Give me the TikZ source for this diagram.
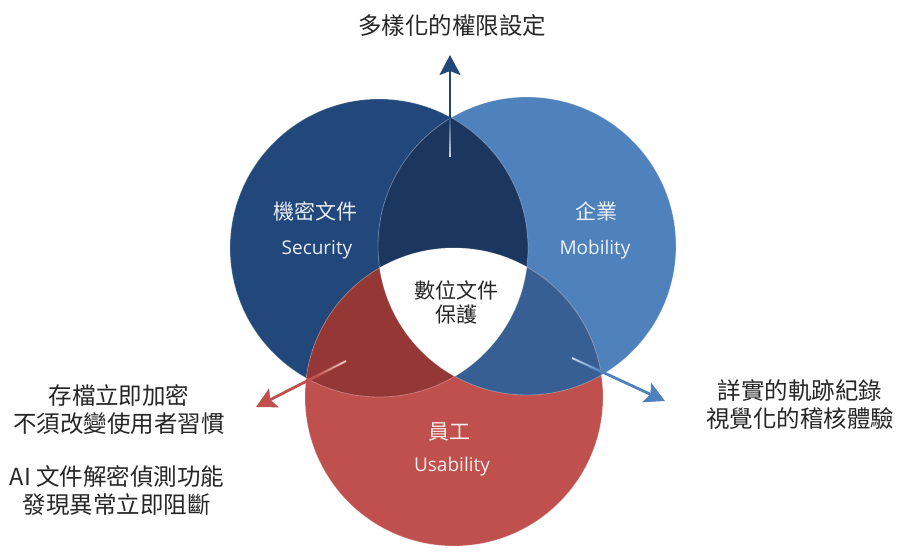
\documentclass[tikz,border=0pt]{standalone}
\usepackage{fontspec}
\setmainfont{Noto Sans CJK TC}
\newfontfamily\latinf{Open Sans}
\usetikzlibrary{arrows.meta,calc}
\definecolor{colL}{HTML}{21477B}
\definecolor{colR}{HTML}{4F81BD}
\definecolor{colB}{HTML}{C0504D}
\definecolor{colLR}{HTML}{1B365F}
\definecolor{colLB}{HTML}{953735}
\definecolor{colRB}{HTML}{385F94}
\definecolor{txt}{HTML}{262626}
\tikzset{
  inlabel/.style={text=white, text opacity=0.9, font=\fontsize{21}{24}\selectfont, inner sep=0pt},
  inlatin/.style={text=white, text opacity=0.9, font=\latinf\fontsize{19}{22}\selectfont, inner sep=0pt},
  outtext/.style={text=txt, font=\fontsize{23.5}{28}\selectfont, align=center, inner sep=0pt},
  pointer/.style={line width=2.8pt, -{Stealth[length=20pt,width=21pt,inset=4pt]}},
  glint/.style={white, line width=1.5pt, line cap=butt}
}
\begin{document}
\begin{tikzpicture}[x=1pt,y=-1pt]
\useasboundingbox (0,0) rectangle (900,554);
\coordinate (cL) at (379,248);
\coordinate (cR) at (527,246);
\coordinate (cB) at (454,397);
% base circles
\fill[colL] (cL) circle (149pt);
\fill[colR] (cR) circle (149pt);
\fill[colB] (cB) circle (149pt);
% pairwise overlaps
\begin{scope}\clip (cL) circle (149pt); \fill[colLR] (cR) circle (149pt);\end{scope}
\begin{scope}\clip (cL) circle (149pt); \fill[colLB] (cB) circle (149pt);\end{scope}
\begin{scope}\clip (cR) circle (149pt); \fill[colRB] (cB) circle (149pt);\end{scope}
% centre
\begin{scope}\clip (cL) circle (149pt); \clip (cR) circle (149pt); \fill[white] (cB) circle (149pt);\end{scope}
% soft edges
\draw[white, opacity=0.3, line width=0.8pt] (cL) circle (149pt) (cR) circle (149pt) (cB) circle (149pt);

% arrows
\coordinate (upS) at (450,157);
\coordinate (upE) at (450,55);
\coordinate (lfS) at (346,361);
\coordinate (lfE) at (256,407);
\coordinate (rtS) at (572,358);
\coordinate (rtE) at (665,401);
\draw[pointer, colL] (upS) -- (upE);
\draw[pointer, colB] (lfS) -- (lfE);
\draw[pointer, colR] (rtS) -- (rtE);
% light gradient at the start of each shaft
\foreach \s/\e/\f in {upS/upE/0.38, lfS/lfE/0.32, rtS/rtE/0.30}{
  \foreach \i in {0,...,11}{
    \pgfmathsetmacro{\ta}{\f*\i/12}
    \pgfmathsetmacro{\tb}{\f*(\i+1)/12}
    \pgfmathsetmacro{\op}{0.75*(1-\i/12)}
    \draw[glint, opacity=\op] ($(\s)!\ta!(\e)$) -- ($(\s)!\tb!(\e)$);
  }
}

% circle labels
\node[inlabel] (secZh) at (315,211) {機密文件};
\node[inlatin] (secEn) at (317,250) {Security};
\node[inlabel] (mobZh) at (596,211) {企業};
\node[inlatin] (mobEn) at (595,250) {Mobility};
\node[inlabel] (useZh) at (449,432) {員工};
\node[inlatin] (useEn) at (452,467) {Usability};
\node[text=txt, font=\fontsize{21}{24}\selectfont, align=center, inner sep=0pt] (core) at (456,302) {數位文件\\保護};

% outer texts
\node[outtext] (top) at (452,26) {多樣化的權限設定};
\node[outtext] (left1) at (119,410) {存檔立即加密\\不須改變使用者習慣};
\node[outtext] (left2) at (117,491) {AI 文件解密偵測功能\\發現異常立即阻斷};
\node[outtext] (right1) at (800,405) {詳實的軌跡紀錄\\視覺化的稽核體驗};
\end{tikzpicture}
\end{document}
